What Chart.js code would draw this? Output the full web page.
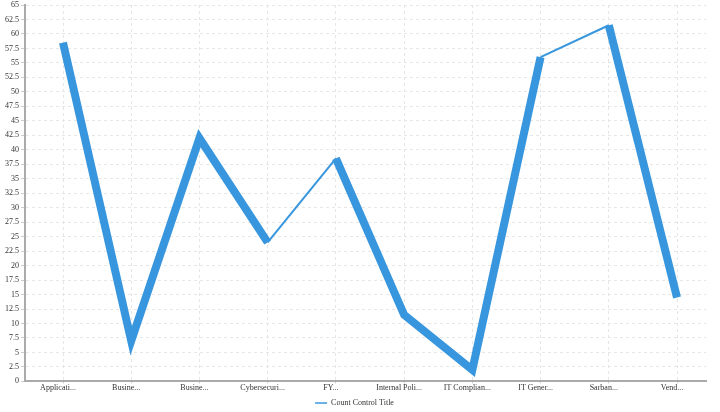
<!DOCTYPE html>
<html>
<head>
<meta charset="utf-8">
<script src="https://cdn.jsdelivr.net/npm/chart.js@4/dist/chart.umd.min.js"></script>
<style>
  html, body { margin: 0; padding: 0; background: #fff; }
  #wrap { width: 720px; height: 412px; }
</style>
</head>
<body>
<div id="wrap"><canvas id="chart" width="720" height="412"></canvas></div>
<script>
// data
const categories = ['Applicati...', 'Busine...', 'Busine...', 'Cybersecuri...', 'FY...',
    'Internal Poli...', 'IT Complian...', 'IT Gener...', 'Sarban...', 'Vend...'];
const countValues = [58.5, 7, 42, 24, 38.5, 11.5, 2, 56, 61.5, 14.5];
const yTicks = { min: 0, max: 65, step: 2.5 };
const seriesName = 'Count Control Title';

// line thickness per segment (style only)
const segWidths = [8, 8, 8, 2, 8, 8, 8, 2, 8];
const blue = '#3796dd';
const font = { family: '"Liberation Serif", "DejaVu Serif", serif', size: 8 };

const ctx = document.getElementById('chart');
new Chart(ctx, {
    type: 'line',
    data: {
        datasets: [{
            label: seriesName,
            data: countValues.map((v, i) => ({ x: i, y: v })),
            borderColor: blue,
            backgroundColor: blue,
            borderWidth: 1.5,
            pointRadius: 0,
            tension: 0,
            borderCapStyle: 'butt',
            borderJoinStyle: 'miter',
            segment: {
                borderWidth: c => segWidths[c.p0DataIndex]
            }
        }]
    },
    options: {
        responsive: false,
        animation: false,
        layout: { padding: { left: 3, right: 14, top: 0, bottom: -5 } },
        plugins: {
            tooltip: { enabled: false },
            legend: {
                position: 'bottom',
                labels: {
                    font: font,
                    color: '#333',
                    usePointStyle: true,
                    pointStyle: 'line',
                    pointStyleWidth: 12,
                    padding: 6
                }
            }
        },
        scales: {
            x: {
                type: 'linear',
                min: -0.557,
                max: 9.425,
                afterBuildTicks: s => { s.ticks = s.ticks.filter(t => Number.isInteger(t.value)); },
                ticks: {
                    stepSize: 1,
                    includeBounds: false,
                    autoSkip: false,
                    maxRotation: 0,
                    labelOffset: -5,
                    padding: 0,
                    font: font,
                    color: '#333',
                    callback: v => categories[v]
                },
                grid: { color: '#e6e6e6', tickLength: 2, tickColor: '#ccc' },
                border: { color: '#aaa', width: 2, dash: [3, 3] }
            },
            y: {
                min: yTicks.min,
                max: yTicks.max,
                afterFit: s => { s.paddingTop = 5; },
                ticks: { stepSize: yTicks.step, font: font, color: '#333', padding: 2 },
                grid: { color: '#e6e6e6', tickLength: 4, tickColor: '#ccc' },
                border: { color: '#aaa', width: 2, dash: [3, 3] }
            }
        }
    }
});
</script>
</body>
</html>
